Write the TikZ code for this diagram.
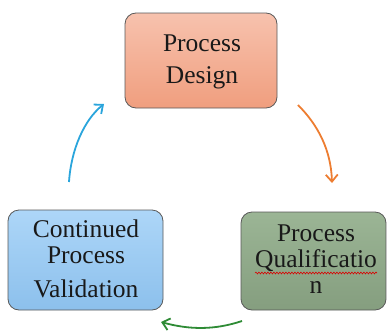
\documentclass[tikz,border=0pt]{standalone}
\usepackage{fontspec}
\setmainfont{Liberation Serif}
\newfontfamily\boxfont{Liberation Serif}
\usetikzlibrary{arrows.meta,decorations.pathmorphing}
\definecolor{pdtop}{HTML}{F7C2AE}
\definecolor{pdbot}{HTML}{F09E7E}
\definecolor{pqtop}{HTML}{9BB595}
\definecolor{pqbot}{HTML}{859E7F}
\definecolor{cvtop}{HTML}{ADD6F8}
\definecolor{cvbot}{HTML}{8CC0EC}
\definecolor{arrO}{HTML}{ED7D31}
\definecolor{arrB}{HTML}{2AA5DC}
\definecolor{arrG}{HTML}{2E8B35}
\begin{document}
\begin{tikzpicture}[x=1pt,y=-1pt,
  box/.style={draw=black!65, line width=0.8pt, rounded corners=11pt, inner sep=0pt},
  lbl/.style={align=center, inner sep=0pt, text=black!90, font=\boxfont\fontsize{25.5}{26}\selectfont},
  cyc/.style={line width=1.8pt, -{Straight Barb[length=7pt,width=12pt,line width=1.8pt]}}]
\useasboundingbox (0,0) rectangle (387,332);
\node[box, minimum width=152pt, minimum height=95pt, top color=pdtop, bottom color=pdbot] (pd) at (201,60.5) {};
\node[lbl, font=\boxfont\fontsize{25.5}{32}\selectfont] (pdt) at (202,62) {Process\\Design};
\node[box, minimum width=145pt, minimum height=98pt, top color=pqtop, bottom color=pqbot] (pq) at (313.5,261) {};
\node[lbl] (pqt) at (316,259) {Process\\Qualificatio\\n};
\node[box, minimum width=155pt, minimum height=100pt, top color=cvtop, bottom color=cvbot] (cv) at (85.5,260) {};
\node[lbl] (cvt) at (86,259) {Continued\\Process\\[8pt]Validation};
\coordinate (sq1) at (255,273);
\coordinate (sq2) at (377,273);
\draw[red!85!black, line width=0.6pt, decorate, decoration={snake, amplitude=0.9pt, segment length=3pt}] (sq1) -- (sq2);
\coordinate (o1) at (298,105);
\coordinate (o2) at (332,183);
\coordinate (g1) at (242,321);
\coordinate (g2) at (161,322);
\coordinate (b1) at (69,182);
\coordinate (b2) at (104,104);
\draw[cyc, arrO] (o1) .. controls (318,125) and (331,150) .. (o2);
\draw[cyc, arrG] (g1) .. controls (215,330) and (190,330) .. (g2);
\draw[cyc, arrB] (b1) .. controls (71,150) and (84,120) .. (b2);
\end{tikzpicture}
\end{document}
